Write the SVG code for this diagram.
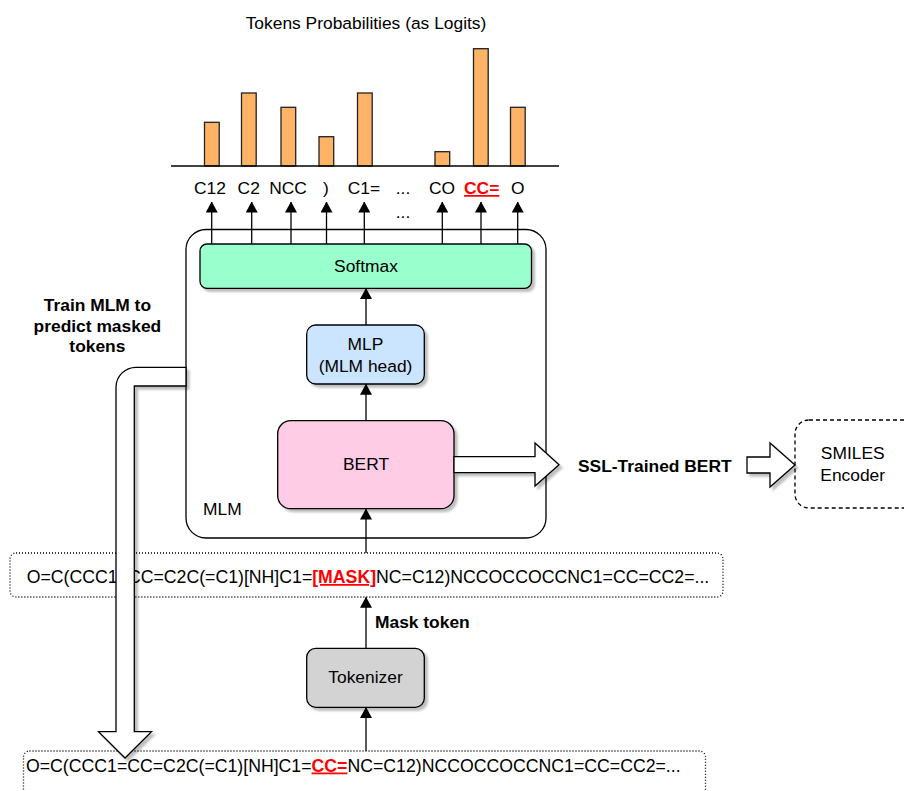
<svg xmlns="http://www.w3.org/2000/svg" width="904" height="791" viewBox="0 0 904 791">
<style>
.t{font-family:"Liberation Sans",Arial,Helvetica,sans-serif;font-size:17.4px;fill:#000}
.s{font-size:17.7px}
.b{font-weight:bold}
.c{text-anchor:middle}
.red{fill:#FF0000;font-weight:bold;text-decoration:underline}
.ln{stroke:#000;stroke-width:1.3;fill:none}
.node{stroke:#000;stroke-width:1.3;filter:url(#sh)}
.bar{fill:#FFB366;stroke:#222;stroke-width:1.3}
.dot{fill:#fff;stroke:#000;stroke-width:1.3;stroke-dasharray:1 2}
.hollow{fill:#fff;stroke:#000;stroke-width:1.3;filter:url(#sh)}
</style>
<defs>
<filter id="sh" x="-10%" y="-10%" width="130%" height="130%">
<feDropShadow dx="3" dy="3" stdDeviation="1" flood-color="#000" flood-opacity="0.25"/>
</filter>
<marker id="ah" viewBox="0 0 11 12" markerWidth="11" markerHeight="12" refX="10.5" refY="6" orient="auto" markerUnits="userSpaceOnUse">
<path d="M0,0 L11,6 L0,12 Z" fill="#000"/>
</marker>
</defs>
<rect width="904" height="791" fill="#fff"/>

<g id="chart">
<text class="t c" x="366" y="29">Tokens Probabilities (as Logits)</text>
<rect class="bar" x="204.5" y="122.3" width="14.7" height="43.7"/>
<rect class="bar" x="241.5" y="93" width="14.7" height="73"/>
<rect class="bar" x="281" y="107.3" width="14.7" height="58.7"/>
<rect class="bar" x="319" y="136.7" width="14.7" height="29.3"/>
<rect class="bar" x="357.5" y="93" width="14.7" height="73"/>
<rect class="bar" x="435" y="151.7" width="14.7" height="14.3"/>
<rect class="bar" x="473.5" y="48.7" width="14.7" height="117.3"/>
<rect class="bar" x="510.5" y="107.3" width="14.7" height="58.7"/>
<line class="ln" x1="171" y1="166" x2="559" y2="166"/>
</g>

<g id="token-labels">
<text class="t c" x="210" y="194">C12</text>
<text class="t c" x="248.7" y="194">C2</text>
<text class="t c" x="288" y="194">NCC</text>
<text class="t c" x="326" y="194">)</text>
<text class="t c" x="364" y="194">C1=</text>
<text class="t c" x="403" y="194">...</text>
<text class="t c" x="403" y="218">...</text>
<text class="t c" x="442" y="194">CO</text>
<text class="t c red" x="481.7" y="194">CC=</text>
<text class="t c" x="517.7" y="194">O</text>
</g>

<g id="mlm">
<rect x="186" y="229.5" width="360" height="308.5" rx="20" fill="#fff" stroke="#000" stroke-width="1.3"/>
<text class="t" x="203" y="514.5">MLM</text>
</g>

<g id="softmax">
<rect class="node" x="200" y="244" width="331.5" height="44.3" rx="7" fill="#99FFCC"/>
<text class="t c" x="366" y="272">Softmax</text>
</g>

<g id="mlp">
<rect class="node" x="306.7" y="325" width="117.6" height="59" rx="9" fill="#CCE5FF"/>
<text class="t c" x="365.5" y="349.5">MLP</text>
<text class="t c" x="365.5" y="372">(MLM head)</text>
</g>

<g id="bert">
<rect class="node" x="277.7" y="420.7" width="176.3" height="88" rx="13" fill="#FFCCE6"/>
<text class="t c" x="366" y="470">BERT</text>
</g>

<g id="masked-input">
<rect class="dot" x="10" y="553" width="713" height="44" rx="6"/>
<text class="t s" x="26.7" y="583">O=C(CCC1=CC=C2C(=C1)[NH]C1=<tspan class="red">[MASK]</tspan>NC=C12)NCCOCCOCCNC1=CC=CC2=...</text>
</g>

<g id="tokenizer">
<rect class="node" x="306.7" y="648.3" width="117.6" height="59" rx="9" fill="#D3D3D3"/>
<text class="t c" x="365.5" y="683">Tokenizer</text>
</g>

<g id="smiles-input">
<rect class="dot" x="23.5" y="751" width="682" height="60" rx="6"/>
<text class="t s" x="26" y="771.5">O=C(CCC1=CC=C2C(=C1)[NH]C1=<tspan class="red">CC=</tspan>NC=C12)NCCOCCOCCNC1=CC=CC2=...</text>
</g>

<g id="smiles-encoder">
<rect x="795" y="420" width="140" height="88" rx="14" fill="#fff" stroke="#000" stroke-width="1.3" stroke-dasharray="4 3"/>
<text class="t c" x="852.7" y="459">SMILES</text>
<text class="t c" x="852.7" y="481">Encoder</text>
</g>

<g id="ssl-label">
<text class="t b" x="578" y="471.5">SSL-Trained BERT</text>
</g>

<g id="train-label">
<text class="t b c" x="97.4" y="310.5">Train MLM to</text>
<text class="t b c" x="97.4" y="331.5">predict masked</text>
<text class="t b c" x="97.4" y="352">tokens</text>
</g>

<g id="connectors">
<line class="ln" x1="211.7" y1="244" x2="211.7" y2="202" marker-end="url(#ah)"/>
<line class="ln" x1="251.7" y1="244" x2="251.7" y2="202" marker-end="url(#ah)"/>
<line class="ln" x1="291" y1="244" x2="291" y2="202" marker-end="url(#ah)"/>
<line class="ln" x1="326.5" y1="244" x2="326.5" y2="202" marker-end="url(#ah)"/>
<line class="ln" x1="364.3" y1="244" x2="364.3" y2="202" marker-end="url(#ah)"/>
<line class="ln" x1="442.3" y1="244" x2="442.3" y2="202" marker-end="url(#ah)"/>
<line class="ln" x1="481" y1="244" x2="481" y2="202" marker-end="url(#ah)"/>
<line class="ln" x1="517.7" y1="244" x2="517.7" y2="202" marker-end="url(#ah)"/>
<line class="ln" x1="366" y1="325" x2="366" y2="288.5" marker-end="url(#ah)"/>
<line class="ln" x1="366" y1="420.7" x2="366" y2="384.2" marker-end="url(#ah)"/>
<line class="ln" x1="366" y1="553" x2="366" y2="509" marker-end="url(#ah)"/>
<line class="ln" x1="366" y1="648.3" x2="366" y2="597.3" marker-end="url(#ah)"/>
<line class="ln" x1="366" y1="751" x2="366" y2="707.5" marker-end="url(#ah)"/>
<text class="t b" x="375" y="628">Mask token</text>
<path class="hollow" d="M454,456.7 L535,456.7 L535,443 L559,464.7 L535,486 L535,472.7 L454,472.7 Z"/>
<path class="hollow" d="M747,457 L770,457 L770,443 L795,465 L770,487 L770,473 L747,473 Z"/>
<path class="hollow" d="M186,367.3 L136,367.3 A20,20 0 0 0 116,387.3 L116,731.7 L98.5,731.7 L125,758 L151.5,731.7 L134.3,731.7 L134.3,386 L186,386 Z"/>
</g>
</svg>
